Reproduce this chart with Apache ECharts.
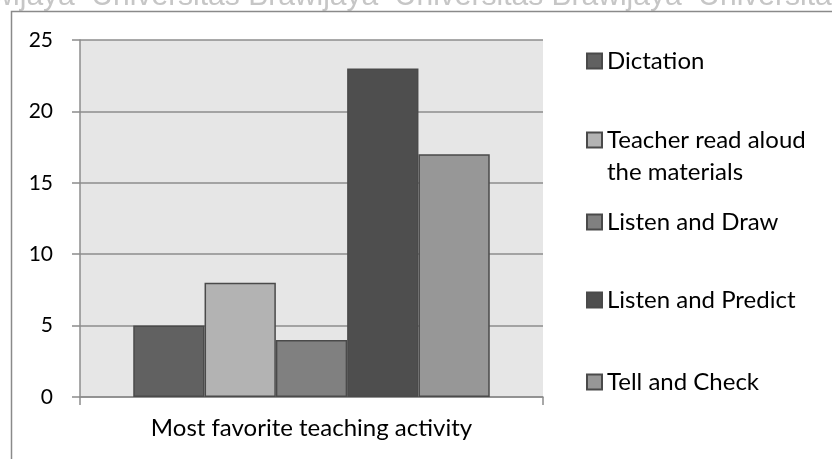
<!DOCTYPE html>
<html>
<head>
<meta charset="utf-8">
<script src="https://cdn.jsdelivr.net/npm/echarts@6/dist/echarts.min.js"></script>
<style>
  html, body { margin: 0; padding: 0; background: #ffffff; }
  #chart { width: 832px; height: 459px; }
</style>
</head>
<body>
<div id="chart"></div>
<script>
// Survey result: students' most favorite teaching activity
const categories = ['Most favorite teaching activity'];
const seriesNames = ['Dictation', 'Teacher read aloud the materials', 'Listen and Draw', 'Listen and Predict', 'Tell and Check'];
const seriesValues = [[5], [8], [4], [23], [17]];
const seriesColors = ['#616161', '#b3b3b3', '#808080', '#4e4e4e', '#979797'];
const yTicks = { min: 0, max: 25, interval: 5 };

const FONT = 'Lato';
const chart = echarts.init(document.getElementById('chart'), null, { renderer: 'canvas' });

// legend entries, one component each so every entry sits at its own row
const legendCenters = [61, 140, 222, 300, 382];
const legendLineHeight = 32;
const legends = seriesNames.map((name, i) => {
  const multi = name === 'Teacher read aloud the materials';
  return {
    data: [name],
    orient: 'vertical',
    left: 586,
    top: legendCenters[i] - (multi ? legendLineHeight * 1.5 : legendLineHeight / 2),
    padding: 0,
    itemWidth: 15,
    itemHeight: 15,
    icon: 'rect',
    selectedMode: false,
    formatter: multi ? () => '\nTeacher read aloud\nthe materials' : undefined,
    textStyle: { fontFamily: FONT, fontSize: 24, color: '#000', lineHeight: legendLineHeight }
  };
});

const option = {
  backgroundColor: '#ffffff',
  animation: false,
  graphic: [
    {
      type: 'text', z: 0, silent: true,
      style: {
        x: -212, y: -3,
        text: 'Universitas Brawijaya  Universitas Brawijaya  Universitas Brawijaya  Universitas Brawijaya',
        font: '30px "Liberation Sans"',
        fill: '#c6c6c6',
        verticalAlign: 'middle'
      }
    },
    {
      type: 'rect', z: 1, silent: true,
      shape: { x: 11.5, y: 11.5, width: 900, height: 500 },
      style: { fill: '#ffffff', stroke: '#8a8a8a', lineWidth: 1.5 }
    },
    {
      type: 'rect', z: 2, silent: true,
      shape: { x: 80, y: 40, width: 463, height: 357 },
      style: { fill: '#e6e6e6' }
    }
  ],
  legend: legends,
  grid: { left: 80, top: 40, right: 289, bottom: 62, containLabel: false },
  xAxis: {
    type: 'category',
    data: categories,
    axisLine: { lineStyle: { color: '#8c8c8c', width: 1.5 } },
    axisTick: { show: true, length: 8, lineStyle: { color: '#8c8c8c', width: 1.5 } },
    axisLabel: { fontFamily: FONT, fontSize: 24, color: '#000', margin: 19 },
    z: 5
  },
  yAxis: {
    type: 'value',
    min: yTicks.min, max: yTicks.max, interval: yTicks.interval,
    axisLine: { show: true, lineStyle: { color: '#8c8c8c', width: 1.5 } },
    axisTick: { show: true, length: 8, lineStyle: { color: '#8c8c8c', width: 1.5 } },
    splitLine: { show: true, lineStyle: { color: '#8c8c8c', width: 1.5 } },
    axisLabel: { fontFamily: FONT, fontSize: 21, color: '#000', margin: 27 },
    z: 5
  },
  series: seriesNames.map((name, i) => ({
    name: name,
    type: 'bar',
    data: seriesValues[i],
    barGap: '0%',
    barCategoryGap: '23%',
    z: 6,
    itemStyle: { color: seriesColors[i], borderColor: '#4a4a4a', borderWidth: 1.5 }
  }))
};

chart.setOption(option);
</script>
</body>
</html>
